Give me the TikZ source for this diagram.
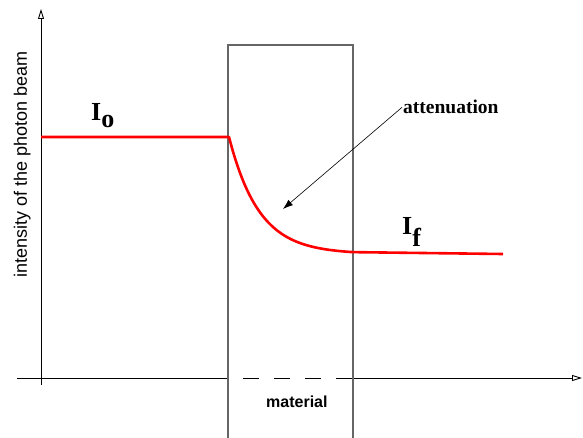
\documentclass[tikz,border=0pt]{standalone}
\usepackage{fontspec}
\setmainfont{Liberation Serif}
\setsansfont{Liberation Sans}
\usetikzlibrary{arrows.meta}
\tikzset{
  axis/.style={black, line width=0.9pt},
  axisarrow/.style={-{Triangle[open,length=10pt,width=6pt]}},
  boxline/.style={draw=black!60, line width=1.3pt},
  beam/.style={red, line width=2.6pt},
  pointer/.style={black, line width=0.6pt, -{Latex[length=10pt,width=7pt]}},
  bigI/.style={font=\fontsize{26}{28}\selectfont\bfseries, inner sep=0pt},
  serlabel/.style={font=\fontsize{19.5}{22}\selectfont\bfseries, inner sep=1pt},
  sanslabel/.style={font=\sffamily\fontsize{18}{20}\selectfont, inner sep=0pt},
}
\begin{document}
\begin{tikzpicture}[x=1pt,y=-1pt]
\useasboundingbox (0,0) rectangle (583,438);
% axes
\coordinate (ybot) at (41,385);
\coordinate (ytop) at (41,9);
\coordinate (xleft) at (17,378);
\coordinate (xa) at (228,378);
\coordinate (xb) at (353,378);
\coordinate (xright) at (582,378);
\draw[axis, axisarrow] (ybot) -- (ytop);
\draw[axis] (xleft) -- (xa);
\draw[axis, dash pattern=on 16pt off 15pt, dash phase=16pt] (xa) -- (xb);
\draw[axis, axisarrow] (xb) -- (xright);
% material box
\coordinate (bl) at (228,438);
\coordinate (tl) at (228,45);
\coordinate (tr) at (353,45);
\coordinate (br) at (353,438);
\draw[boxline] (bl) -- (tl) -- (tr) -- (br);
% beam
\coordinate (b0) at (41,137);
\coordinate (b1) at (229,137);
\coordinate (b2) at (503,254);
\draw[beam, line join=round] (b0) -- (b1) -- plot[domain=229:353, samples=60] (\x,{254-117*exp(-(\x-229)/30)}) -- (b2);
% labels
\node[bigI, anchor=base west] (Io) at (91,121) {I\raisebox{-7pt}{o}};
\node[bigI, anchor=base west] (If) at (402,235) {I\raisebox{-12pt}{f}};
\node[serlabel, anchor=base west] (att) at (402,114) {attenuation};
\coordinate (atttip) at (283,209);
\draw[pointer] (att.west) -- (atttip);
\node[sanslabel, font=\sffamily\bfseries\fontsize{16}{18}\selectfont, anchor=base west] (mat) at (266,407) {material};
\node[sanslabel, rotate=90, anchor=base west] (ylab) at (27,278) {intensity of the photon beam};
\end{tikzpicture}
\end{document}
